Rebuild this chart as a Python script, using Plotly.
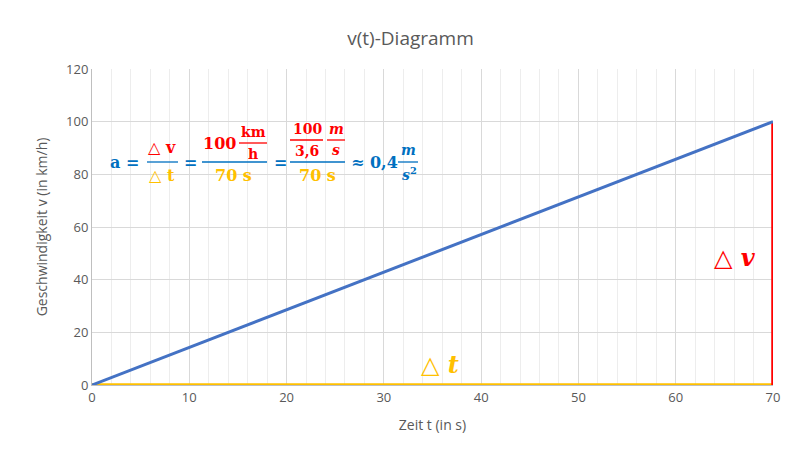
import plotly.graph_objects as go

t = [0, 70]
v = [0, 100]
dv_x = [70, 70]
dv_y = [0, 100]
dt_x = [0, 70]
dt_y = [0, 0]

BLUE = "#4472C4"; RED = "#FF0000"; YEL = "#FFC000"; FB = "#0070C0"
OFF = 8
L, R, T, B = 92, 32, 69, 83
W, H = 805, 468
PW, PH = W - L - R, H - T - B

def px(X): return (X - L) / PW
def py(Y): return (H - B - Y) / PH

fig = go.Figure()
fig.add_trace(go.Scatter(x=dt_x, y=dt_y, mode="lines", line=dict(color=YEL, width=3.5), hoverinfo="skip"))
fig.add_trace(go.Scatter(x=dv_x, y=dv_y, mode="lines", line=dict(color=RED, width=3.5), hoverinfo="skip"))
fig.add_trace(go.Scatter(x=t, y=v, mode="lines", line=dict(color=BLUE, width=3)))

SF = "DejaVu Serif"
def txt(X, Y, s, color, size=16):
    fig.add_annotation(x=px(X), y=py(Y), xref="paper", yref="paper", text="<b>" + s + "</b>",
                       showarrow=False, font=dict(family=SF, size=size, color=color),
                       xanchor="center", yanchor="middle")
def bar(x0, x1, Y, color):
    fig.add_shape(type="line", xref="paper", yref="paper", x0=px(x0), x1=px(x1), y0=py(Y), y1=py(Y),
                  line=dict(color=color, width=1.3))

txt(124, 162, "a =", FB)
txt(162, 147, "△ v", RED); bar(147, 178, 162, FB); txt(162, 175, "△ t", YEL)
txt(190, 162, "=", FB)
txt(219, 143, "100", RED); txt(253, 132, "km", RED, 14); bar(239, 267, 143, RED); txt(253, 154, "h", RED, 14)
bar(202, 267, 162, FB); txt(233, 175, "70 s", YEL)
txt(280, 162, "=", FB)
txt(307, 129, "100", RED, 14); bar(290, 323, 140, RED); txt(307, 151, "3,6", RED, 14)
txt(336, 129, "<i>m</i>", RED, 14)
bar(327, 345, 140, RED)
txt(336, 150, "<i>s</i>", RED, 14)
bar(290, 345, 162, FB); txt(317, 175, "70 s", YEL)
txt(374, 162, "≈ 0,4", FB)
txt(408, 150, "<i>m</i>", FB, 14)
bar(398, 418, 162, FB)
txt(409, 174, "<i>s</i><sup>2</sup>", FB, 14)

txt(735, 257, "△ <i>v</i>", RED, 24)
txt(440, 364, "△ <i>t</i>", YEL, 24)

fig.update_layout(
    width=W, height=H, margin=dict(l=L - OFF, r=R + OFF, t=T - OFF, b=B + OFF),
    paper_bgcolor="white", plot_bgcolor="white", showlegend=False,
    font=dict(family="Open Sans", color="#595959", size=13),
    title=dict(text="v(t)-Diagramm", x=0.5, xanchor="center", y=0.95, font=dict(size=19, color="#595959")),
    xaxis=dict(range=[0, 70], tick0=0, dtick=10, showgrid=True, gridcolor="#D9D9D9",
               minor=dict(dtick=2, showgrid=True, gridcolor="#EDEDED"), automargin=False,
               zeroline=False, showline=True, linecolor="#BFBFBF",
               title=dict(text="Zeit t (in s)", font=dict(size=14)), ticks=""),
    yaxis=dict(range=[0, 120], tick0=0, dtick=20, showgrid=True, gridcolor="#D9D9D9", automargin=False,
               zeroline=False, showline=True, linecolor="#BFBFBF",
               title=dict(text="Geschwindigkeit v (in km/h)", font=dict(size=14)), ticks=""),
)
fig.write_html("out.html")
